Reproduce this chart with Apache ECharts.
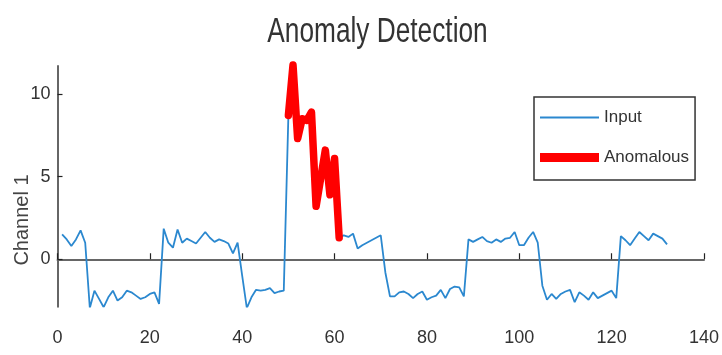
<!DOCTYPE html>
<html>
<head>
<meta charset="utf-8">
<script src="https://cdn.jsdelivr.net/npm/echarts@6/dist/echarts.min.js"></script>
<style>
html, body { margin: 0; padding: 0; background: #fff; }
#chart { width: 722px; height: 355px; }
</style>
</head>
<body>
<div id="chart"></div>
<script>
// sample index of first input value
var inputStart = 1;
var inputVals = [
    1.5, 1.2, 0.8, 1.2, 1.75, 1.0, -2.95, -1.9, -2.4, -2.9,
    -2.3, -1.9, -2.5, -2.3, -1.9, -2.0, -2.2, -2.4, -2.3, -2.1,
    -2.0, -2.7, 1.85, 1.0, 0.7, 1.8, 1.0, 1.25, 1.1, 0.95,
    1.3, 1.65, 1.3, 1.05, 1.2, 1.1, 0.95, 0.35, 1.0, -1.0,
    -2.95, -2.3, -1.85, -1.9, -1.85, -1.75, -2.05, -1.95, -1.9, 8.7,
    11.75, 7.3, 8.5, 8.4, 8.9, 3.2, 4.9, 6.6, 3.9, 6.1,
    1.3, 1.45, 1.35, 1.55, 0.65, 0.85, 1.0, 1.15, 1.3, 1.45,
    -0.8, -2.25, -2.25, -2.0, -1.95, -2.1, -2.35, -2.1, -1.95, -2.45,
    -2.3, -2.2, -1.85, -2.35, -1.8, -1.65, -1.7, -2.25, 1.2, 1.05,
    1.2, 1.35, 1.1, 1.0, 1.2, 1.05, 1.25, 1.3, 1.65, 0.85,
    0.85, 1.3, 1.65, 1.0, -1.6, -2.45, -2.1, -2.4, -2.1, -1.95,
    -1.85, -2.6, -2.0, -2.2, -2.45, -2.0, -2.35, -2.2, -2.05, -1.9,
    -2.35, 1.4, 1.15, 0.85, 1.25, 1.65, 1.4, 1.15, 1.55, 1.4,
    1.25, 0.9
];

// anomalous window
var anomalyStart = 50;
var anomalyVals = [8.7, 11.75, 7.3, 8.5, 8.4, 8.9, 3.2, 4.9, 6.6, 3.9, 6.1, 1.3];

var xTicks = [0, 20, 40, 60, 80, 100, 120, 140];
var yTicks = [0, 5, 10];

var inputData = [];
for (var i = 0; i < inputVals.length; i++) {
    inputData.push([inputStart + i, inputVals[i]]);
}
var anomalyData = [];
for (var j = 0; j < anomalyVals.length; j++) {
    anomalyData.push([anomalyStart + j, anomalyVals[j]]);
}

var sans = "'Liberation Sans', Arial, sans-serif";

var myChart = echarts.init(document.getElementById('chart'));
myChart.setOption({
    animation: false,
    backgroundColor: '#fff',
    legend: {
        orient: 'vertical',
        left: 534,
        top: 97,
        padding: [12, 6, 14, 6],
        itemGap: 23,
        itemWidth: 59,
        itemHeight: 14,
        borderColor: '#333',
        borderWidth: 1.5,
        itemStyle: { borderWidth: 0 },
        textStyle: {
            fontFamily: sans,
            fontSize: 17,
            color: '#333'
        },
        data: [
            { name: 'Input', icon: 'path://M0,0h60v2h-60z' },
            { name: 'Anomalous', icon: 'path://M0,0h60v9h-60z' }
        ]
    },
    graphic: [{
        type: 'text',
        x: 377.5,
        y: 15,
        scaleX: 0.75,
        style: {
            text: 'Anomaly Detection',
            fontFamily: sans,
            fontSize: 35,
            fill: '#333',
            align: 'center',
            verticalAlign: 'top'
        }
    }, {
        type: 'text',
        x: 22,
        y: 220,
        rotation: Math.PI / 2,
        style: {
            text: 'Channel 1',
            fontFamily: sans,
            fontSize: 20,
            fill: '#444',
            align: 'center',
            verticalAlign: 'middle'
        }
    }],
    grid: {
        left: 57.5,
        right: 15.5,
        top: 66,
        bottom: 48.3
    },
    xAxis: {
        type: 'value',
        min: 0,
        max: 140,
        interval: 20,
        splitLine: { show: false },
        axisLine: { lineStyle: { color: '#666', width: 2 } },
        axisTick: {
            inside: true,
            length: 6,
            customValues: xTicks,
            lineStyle: { color: '#222', width: 1.2 }
        },
        axisLabel: {
            customValues: xTicks,
            margin: 22,
            fontFamily: sans,
            fontSize: 18,
            color: '#333'
        }
    },
    yAxis: {
        type: 'value',
        min: -2.87,
        max: 11.69,
        splitLine: { show: false },
        axisLine: { show: true, lineStyle: { color: '#666', width: 2 } },
        axisTick: {
            show: true,
            inside: true,
            length: 5,
            customValues: yTicks,
            lineStyle: { color: '#222', width: 1.2 }
        },
        axisLabel: {
            customValues: yTicks,
            margin: 7,
            fontFamily: sans,
            fontSize: 18,
            color: '#333'
        }
    },
    series: [
        {
            name: 'Input',
            type: 'line',
            symbol: 'none',
            color: '#2b88cf',
            lineStyle: { width: 1.8, color: '#2b88cf' },
            data: inputData
        },
        {
            name: 'Anomalous',
            type: 'line',
            symbol: 'none',
            clip: false,
            color: '#ff0000',
            lineStyle: { width: 7.5, color: '#ff0000', join: 'round', cap: 'round' },
            data: anomalyData
        }
    ]
});
</script>
</body>
</html>
